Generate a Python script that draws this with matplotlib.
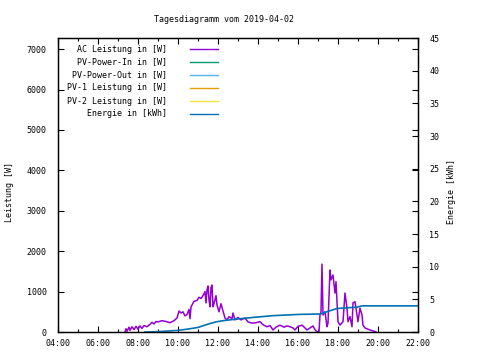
import matplotlib
matplotlib.use('Agg')
import matplotlib.pyplot as plt
from matplotlib.lines import Line2D
from matplotlib.ticker import MultipleLocator

plt.rcParams['font.family'] = 'DejaVu Sans Mono'
plt.rcParams['font.size'] = 6

# --- data (hours of day) ---
ac_hours = [7.35, 7.4, 7.45, 7.55, 7.6, 7.7, 7.8, 7.9, 8.0, 8.1, 8.2, 8.3, 8.45,
            8.6, 8.7, 8.8, 8.9, 9.0, 9.2, 9.4, 9.6, 9.8, 9.95, 10.05, 10.15,
            10.25, 10.35, 10.45, 10.55, 10.6, 10.65, 10.8, 10.95, 11.05, 11.15,
            11.25, 11.35, 11.4, 11.45, 11.5, 11.55, 11.6, 11.65, 11.7, 11.75,
            11.8, 11.9, 11.95, 12.05, 12.15, 12.25, 12.35, 12.45, 12.55, 12.7,
            12.75, 12.85, 13.0, 13.15, 13.35, 13.5, 13.7, 13.9, 14.1, 14.25,
            14.45, 14.6, 14.75, 14.9, 15.1, 15.3, 15.45, 15.6, 15.75, 15.85,
            16.0, 16.2, 16.35, 16.45, 16.6, 16.75, 16.85, 16.95, 17.05, 17.1,
            17.15, 17.2, 17.25, 17.35, 17.45, 17.5, 17.6, 17.65, 17.75, 17.85,
            17.9, 18.0, 18.1, 18.25, 18.35, 18.45, 18.5, 18.6, 18.7, 18.75,
            18.85, 18.95, 19.0, 19.1, 19.2, 19.25, 19.35, 19.6, 19.85, 19.9]
ac_watt = [0, 80, 20, 120, 40, 130, 60, 140, 70, 150, 90, 160, 130,
           190, 240, 200, 260, 250, 280, 260, 230, 280, 345, 520, 470,
           500, 400, 430, 560, 330, 620, 760, 780, 860, 830,
           900, 1000, 720, 1040, 1140, 800, 625, 1100, 1160, 625,
           700, 900, 670, 500, 700, 520, 345, 300, 380, 330,
           470, 300, 360, 300, 345, 250, 220, 230, 255, 180,
           130, 160, 50, 120, 170, 120, 150, 130, 100, 50,
           140, 170, 100, 50, 100, 150, 60, 0, 10, 420,
           500, 1680, 420, 500, 130, 220, 1535, 1290, 1410, 965,
           1245, 255, 170, 255, 965, 590, 255, 380, 130, 720,
           750, 420, 255, 590, 420, 170, 100, 50, 10, 0]

energy_hours = [8.35, 9.0, 9.5, 10.0, 10.5, 11.0, 11.5, 11.9, 12.25, 13.0,
                13.45, 14.0, 14.75, 16.1, 17.1, 17.45, 17.95, 18.95, 19.2, 22.0]
energy_kwh = [0, 0.05, 0.15, 0.25, 0.45, 0.7, 1.2, 1.55, 1.73, 2.0,
              2.14, 2.3, 2.5, 2.7, 2.75, 3.1, 3.6, 3.8, 4.0, 4.0]

# series with no visible data that day
pv_in_hours, pv_in_watt = [], []
pv_out_hours, pv_out_watt = [], []
pv1_hours, pv1_watt = [], []
pv2_hours, pv2_watt = [], []

x_ticks = [4, 6, 8, 10, 12, 14, 16, 18, 20, 22]
x_labels = ['04:00', '06:00', '08:00', '10:00', '12:00', '14:00',
            '16:00', '18:00', '20:00', '22:00']
y1_ticks = [0, 1000, 2000, 3000, 4000, 5000, 6000, 7000]
y2_ticks = [0, 5, 10, 15, 20, 25, 30, 35, 40, 45]

labels = ['AC Leistung in [W]', 'PV-Power-In in [W]', 'PV-Power-Out in [W]',
          'PV-1 Leistung in [W]', 'PV-2 Leistung in [W]', 'Energie in [kWh]']
colors = ['#9400d3', '#009e73', '#56b4e9', '#e69f00', '#f0e442', '#0072b2']

W, H = 480, 360
fig = plt.figure(figsize=(W / 100, H / 100), dpi=100)
ax1 = fig.add_axes([58 / W, 28 / H, 360 / W, 294 / H])
ax2 = ax1.twinx()

ax1.plot(ac_hours, ac_watt, color=colors[0], lw=1.1)
ax1.plot(pv_in_hours, pv_in_watt, color=colors[1], lw=1.1)
ax1.plot(pv_out_hours, pv_out_watt, color=colors[2], lw=1.1)
ax1.plot(pv1_hours, pv1_watt, color=colors[3], lw=1.1)
ax1.plot(pv2_hours, pv2_watt, color=colors[4], lw=1.1)
ax2.plot(energy_hours, energy_kwh, color=colors[5], lw=1.2)

ax1.set_xlim(4, 22)
ax1.set_ylim(0, 7277)
ax2.set_ylim(0, 45)
ax1.set_xticks(x_ticks)
ax1.set_xticklabels(x_labels)
ax1.xaxis.set_minor_locator(MultipleLocator(1))
ax1.set_yticks(y1_ticks)
ax2.set_yticks(y2_ticks)

ax1.tick_params(axis='x', which='major', direction='in', length=4, width=0.8,
                top=True, pad=5)
ax1.tick_params(axis='x', which='minor', direction='in', length=2.5, width=0.8,
                top=True)
ax1.tick_params(axis='y', direction='in', length=4, width=0.8, right=True, pad=8)
ax2.tick_params(axis='y', direction='in', length=4, width=0.8, pad=8)
for ax in (ax1, ax2):
    for s in ax.spines.values():
        s.set_linewidth(0.9)

fig.text(224 / W, 1 - 19 / H, 'Tagesdiagramm vom 2019-04-02', ha='center', va='center')
fig.text(10 / W, 1 - 192 / H, 'Leistung [W]', rotation=90, ha='center', va='center')
fig.text(451 / W, 1 - 192 / H, 'Energie [kWh]', rotation=90, ha='center', va='center')

# gnuplot-style key: right aligned text, sample line to the right
for i, (lab, c) in enumerate(zip(labels, colors)):
    y = 1 - (49 + 13 * i) / H
    fig.text(167 / W, y, lab, ha='right', va='center')
    fig.add_artist(Line2D([190 / W, 218 / W], [y, y], color=c, lw=1.0,
                          transform=fig.transFigure))

fig.savefig('out.png', dpi=100)
